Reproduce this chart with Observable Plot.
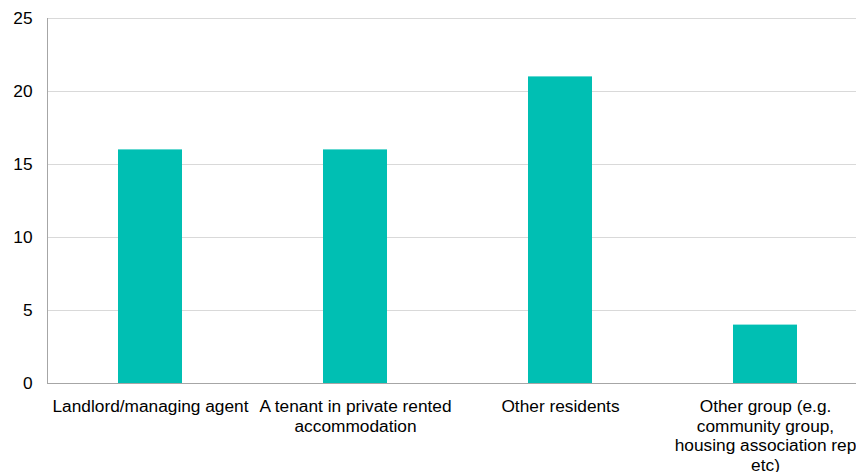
<!DOCTYPE html>
<html>
<head>
<meta charset="utf-8">
<script src="https://cdn.jsdelivr.net/npm/d3@7"></script>
<script src="https://cdn.jsdelivr.net/npm/@observablehq/plot@0.6"></script>
<style>
  html, body { margin: 0; padding: 0; background: #fff; }
</style>
</head>
<body>
<div id="chart"></div>
<script>
const categories = [
  "Landlord/managing agent",
  "A tenant in private rented accommodation",
  "Other residents",
  "Other group (e.g. community group, housing association rep etc)"
];
const tickLabels = [
  "Landlord/managing agent",
  "A tenant in private rented\naccommodation",
  "Other residents",
  "Other group (e.g.\ncommunity group,\nhousing association rep\netc)"
];
const values = [16, 16, 21, 4];
const yTicks = [0, 5, 10, 15, 20, 25];

const data = categories.map((c, i) => ({category: c, value: values[i]}));
const labelOf = new Map(categories.map((c, i) => [c, tickLabels[i]]));

const chart = Plot.plot({
  width: 856,
  height: 472,
  marginLeft: 47,
  marginRight: 0,
  marginTop: 18,
  marginBottom: 89,
  style: {fontFamily: "'Liberation Sans', Arial, sans-serif", fontSize: "17.3px", color: "#000", background: "#fff"},
  x: {domain: categories, range: [47, 867], paddingInner: 0.69, paddingOuter: 0.345, label: null},
  y: {domain: [0, 25], label: null},
  marks: [
    Plot.ruleY(yTicks, {stroke: "#d9d9d9", strokeWidth: 1}),
    Plot.barY(data, {x: "category", y: "value", fill: "#00bfb3"}),
    Plot.ruleY([0], {stroke: "#a6a6a6", strokeWidth: 1}),
    Plot.frame({anchor: "left", stroke: "#a6a6a6"}),
    Plot.axisY({ticks: yTicks, tickSize: 0, tickPadding: 15, label: null, fontSize: 17.3, fill: "#000"}),
    Plot.axisX({tickSize: 0, tickPadding: 15, label: null, fontSize: 17.3, lineHeight: 1.13, fill: "#000",
      tickFormat: d => labelOf.get(d)})
  ]
});
document.getElementById("chart").appendChild(chart);
</script>
</body>
</html>
